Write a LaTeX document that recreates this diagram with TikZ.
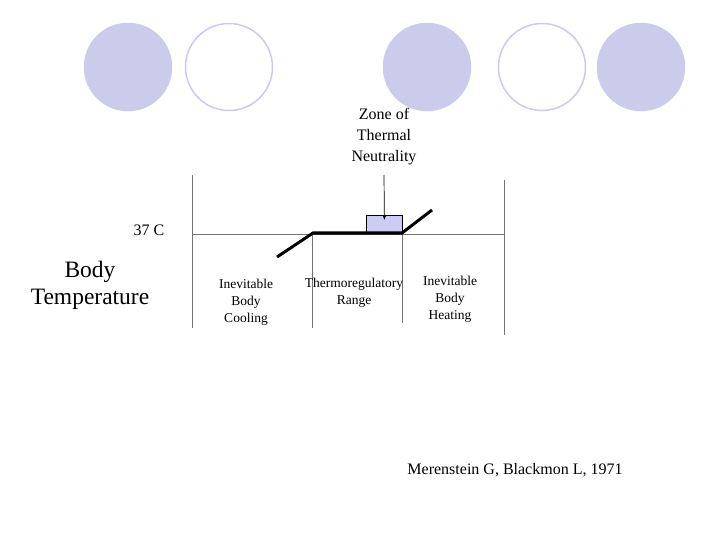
\documentclass[tikz,border=0pt]{standalone}
\usepackage{fontspec}
\usetikzlibrary{arrows.meta}
\setmainfont{Liberation Serif}
\begin{document}
\begin{tikzpicture}[x=1pt,y=-1pt,
  fillc/.style={circle,minimum size=87pt,inner sep=0pt,fill=lav,draw=lav,line width=1.5pt},
  openc/.style={circle,minimum size=87pt,inner sep=0pt,fill=white,draw=lav,line width=1.5pt},
  gl/.style={draw=gray!90!black,line width=0.9pt},
  thk/.style={line width=3pt,line cap=butt},
  lbl/.style={align=center,font=\fontsize{13.5}{17}\selectfont}]
\definecolor{lav}{HTML}{CBCBEB}
\definecolor{boxc}{HTML}{CCCCF5}
\useasboundingbox (0,0) rectangle (720,540);
\node[fillc] (c1) at (128,67) {};
\node[openc] (c2) at (229,67) {};
\node[fillc] (c3) at (427,67) {};
\node[openc] (c4) at (542,67) {};
\node[fillc] (c5) at (641,67) {};
\coordinate (v1t) at (192,175); \coordinate (v1b) at (192,328);
\coordinate (v2t) at (312,234); \coordinate (v2b) at (312,328);
\coordinate (v3t) at (402,234); \coordinate (v3b) at (402,323);
\coordinate (v4t) at (504,180); \coordinate (v4b) at (504,335);
\draw[gl] (v1t)--(v1b); \draw[gl] (v2t)--(v2b); \draw[gl] (v3t)--(v3b); \draw[gl] (v4t)--(v4b);
\coordinate (hl) at (192,234); \coordinate (hr) at (504,234);
\draw[gl] (hl)--(hr);
\node[draw=black,fill=boxc,line width=0.8pt,minimum width=36pt,minimum height=17pt,inner sep=0pt,anchor=south west] (box) at (366,233) {};
\coordinate (a) at (277,257); \coordinate (b) at (313,233); \coordinate (c) at (402,233); \coordinate (d) at (432,210);
\draw[thk] (a)--(b)--(c)--(d);
\node[align=center,font=\fontsize{16}{21}\selectfont] (zone) at (384,137) {Zone of\\Thermal\\Neutrality};
\coordinate (at) at (384,175);
\draw[-{Latex[length=5pt,width=4pt]},line width=0.7pt] (at)--([yshift=-5pt]box.north);
\node[font=\fontsize{16}{18}\selectfont] (t37) at (149,230) {37 C};
\node[align=center,font=\fontsize{23.5}{27}\selectfont] (bt) at (90,285) {Body\\Temperature};
\node[lbl] (l1) at (246,302) {Inevitable\\Body\\Cooling};
\node[lbl] (l2) at (354,293) {Thermoregulatory\\Range};
\node[lbl] (l3) at (450,299) {Inevitable\\Body\\Heating};
\node[font=\fontsize{16}{18}\selectfont] (ref) at (515,470) {Merenstein G, Blackmon L, 1971};
\end{tikzpicture}
\end{document}
